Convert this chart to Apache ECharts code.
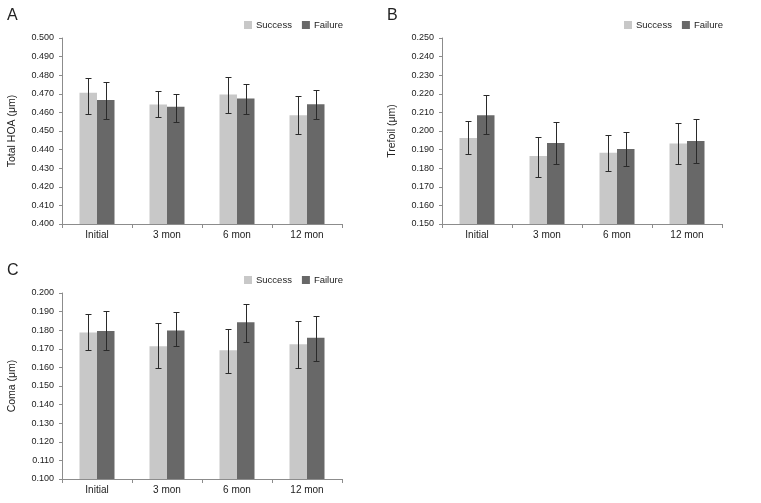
<!DOCTYPE html>
<html>
<head>
<meta charset="utf-8">
<script src="https://cdn.jsdelivr.net/npm/echarts@6/dist/echarts.min.js"></script>
<style>
html,body{margin:0;padding:0;background:#fff;}
#chart{width:761px;height:503px;}
</style>
</head>
<body>
<div id="chart"></div>
<script>
const categories = ['Initial', '3 mon', '6 mon', '12 mon'];
const seriesNames = ['Success', 'Failure'];

// Panel A: Total HOA
const hoaSuccess   = [0.4705, 0.4642, 0.4696, 0.4585];
const hoaSuccessHi = [0.4783, 0.4714, 0.4792, 0.4686];
const hoaSuccessLo = [0.4589, 0.4576, 0.4597, 0.4484];
const hoaFailure   = [0.4666, 0.4630, 0.4675, 0.4644];
const hoaFailureHi = [0.4765, 0.4698, 0.4754, 0.4722];
const hoaFailureLo = [0.4563, 0.4549, 0.4589, 0.4565];

// Panel B: Trefoil
const trefSuccess   = [0.1962, 0.1865, 0.1883, 0.1933];
const trefSuccessHi = [0.2054, 0.1968, 0.1978, 0.2045];
const trefSuccessLo = [0.1876, 0.1752, 0.1786, 0.1824];
const trefFailure   = [0.2085, 0.1935, 0.1903, 0.1946];
const trefFailureHi = [0.2195, 0.2050, 0.1993, 0.2065];
const trefFailureLo = [0.1984, 0.1824, 0.1811, 0.1827];

// Panel C: Coma
const comaSuccess   = [0.1787, 0.1714, 0.1692, 0.1724];
const comaSuccessHi = [0.1885, 0.1840, 0.1807, 0.1852];
const comaSuccessLo = [0.1692, 0.1595, 0.1568, 0.1598];
const comaFailure   = [0.1796, 0.1798, 0.1843, 0.1759];
const comaFailureHi = [0.1901, 0.1897, 0.1942, 0.1874];
const comaFailureLo = [0.1692, 0.1715, 0.1737, 0.1636];

const panelLabels = ['A', 'B', 'C'];
const yNames = ['Total HOA (\u03bcm)', 'Trefoil (\u03bcm)', 'Coma (\u03bcm)'];
const yMins = [0.40, 0.15, 0.10];
const yMaxs = [0.50, 0.25, 0.20];
const yStep = 0.01;

const FONT = '"Liberation Sans", Arial, Helvetica, sans-serif';
const TEXT = '#222';
const AXIS = '#8c8c8c';
const COLORS = ['#c8c8c8', '#686868'];

const panels = [
  {s: hoaSuccess, sHi: hoaSuccessHi, sLo: hoaSuccessLo, f: hoaFailure, fHi: hoaFailureHi, fLo: hoaFailureLo},
  {s: trefSuccess, sHi: trefSuccessHi, sLo: trefSuccessLo, f: trefFailure, fHi: trefFailureHi, fLo: trefFailureLo},
  {s: comaSuccess, sHi: comaSuccessHi, sLo: comaSuccessLo, f: comaFailure, fHi: comaFailureHi, fLo: comaFailureLo}
];

const gridBoxes = [
  {left: 62, top: 38, width: 280, height: 186},
  {left: 442, top: 38, width: 280, height: 186},
  {left: 62, top: 293, width: 280, height: 186}
];
const titlePos = [{left: 7, top: 8}, {left: 387, top: 8}, {left: 7, top: 263}];
const legendPos = [{left: 244, top: 20}, {left: 624, top: 20}, {left: 244, top: 275}];

function errorRenderer(side) {
  return function (params, api) {
    const xi = api.value(0);
    const lo = api.coord([xi, api.value(1)]);
    const hi = api.coord([xi, api.value(2)]);
    const band = api.size([1, 0])[0];
    const cx = Math.round(lo[0] + side * band / 8) + 0.5;
    const yLo = Math.round(lo[1]) + 0.5;
    const yHi = Math.round(hi[1]) + 0.5;
    const cap = 3;
    const style = {stroke: '#2a2a2a', lineWidth: 1};
    return {
      type: 'group',
      children: [
        {type: 'line', shape: {x1: cx, y1: yHi, x2: cx, y2: yLo}, style: style},
        {type: 'line', shape: {x1: cx - cap, y1: yHi, x2: cx + cap, y2: yHi}, style: style},
        {type: 'line', shape: {x1: cx - cap, y1: yLo, x2: cx + cap, y2: yLo}, style: style}
      ]
    };
  };
}

const option = {
  animation: false,
  backgroundColor: '#fff',
  textStyle: {fontFamily: FONT},
  title: panelLabels.map((t, i) => ({
    text: t, left: titlePos[i].left, top: titlePos[i].top, padding: 0,
    textStyle: {fontSize: 16, fontWeight: 'normal', color: TEXT, fontFamily: FONT}
  })),
  legend: legendPos.map((p) => ({
    data: seriesNames, left: p.left, top: p.top, padding: 0,
    itemWidth: 8, itemHeight: 8, itemGap: 10, icon: 'rect',
    textStyle: {fontSize: 9.5, color: TEXT, fontFamily: FONT, padding: [0, 0, 0, -1]},
    selectedMode: false
  })),
  grid: gridBoxes.map(g => Object.assign({containLabel: false}, g)),
  xAxis: gridBoxes.map((g, i) => ({
    type: 'category', gridIndex: i, data: categories,
    axisLine: {lineStyle: {color: AXIS, width: 1}},
    axisTick: {show: true, length: 4, lineStyle: {color: AXIS}},
    axisLabel: {fontSize: 10, color: TEXT, margin: 6, fontFamily: FONT},
    splitLine: {show: false}
  })),
  yAxis: gridBoxes.map((g, i) => ({
    type: 'value', gridIndex: i, min: yMins[i], max: yMaxs[i], interval: yStep,
    name: yNames[i], nameLocation: 'middle', nameGap: 44,
    nameTextStyle: {fontSize: 10.5, color: TEXT, fontFamily: FONT},
    axisLine: {show: true, lineStyle: {color: AXIS, width: 1}},
    axisTick: {show: true, length: 3, lineStyle: {color: AXIS}},
    axisLabel: {fontSize: 9, color: TEXT, margin: 8, fontFamily: FONT,
      formatter: v => v.toFixed(3)},
    splitLine: {show: false}
  })),
  series: []
};

panels.forEach((p, i) => {
  option.series.push({
    name: 'Success', type: 'bar', xAxisIndex: i, yAxisIndex: i,
    data: p.s, barGap: '0%', barCategoryGap: '50%',
    itemStyle: {color: COLORS[0]}
  });
  option.series.push({
    name: 'Failure', type: 'bar', xAxisIndex: i, yAxisIndex: i,
    data: p.f, barGap: '0%', barCategoryGap: '50%',
    itemStyle: {color: COLORS[1]}
  });
  option.series.push({
    name: 'err-s-' + i, type: 'custom', xAxisIndex: i, yAxisIndex: i,
    renderItem: errorRenderer(-1), z: 10,
    encode: {x: 0, y: [1, 2]},
    data: categories.map((c, k) => [k, p.sLo[k], p.sHi[k]])
  });
  option.series.push({
    name: 'err-f-' + i, type: 'custom', xAxisIndex: i, yAxisIndex: i,
    renderItem: errorRenderer(1), z: 10,
    encode: {x: 0, y: [1, 2]},
    data: categories.map((c, k) => [k, p.fLo[k], p.fHi[k]])
  });
});

const chart = echarts.init(document.getElementById('chart'), null, {renderer: 'canvas'});
chart.setOption(option);
</script>
</body>
</html>
